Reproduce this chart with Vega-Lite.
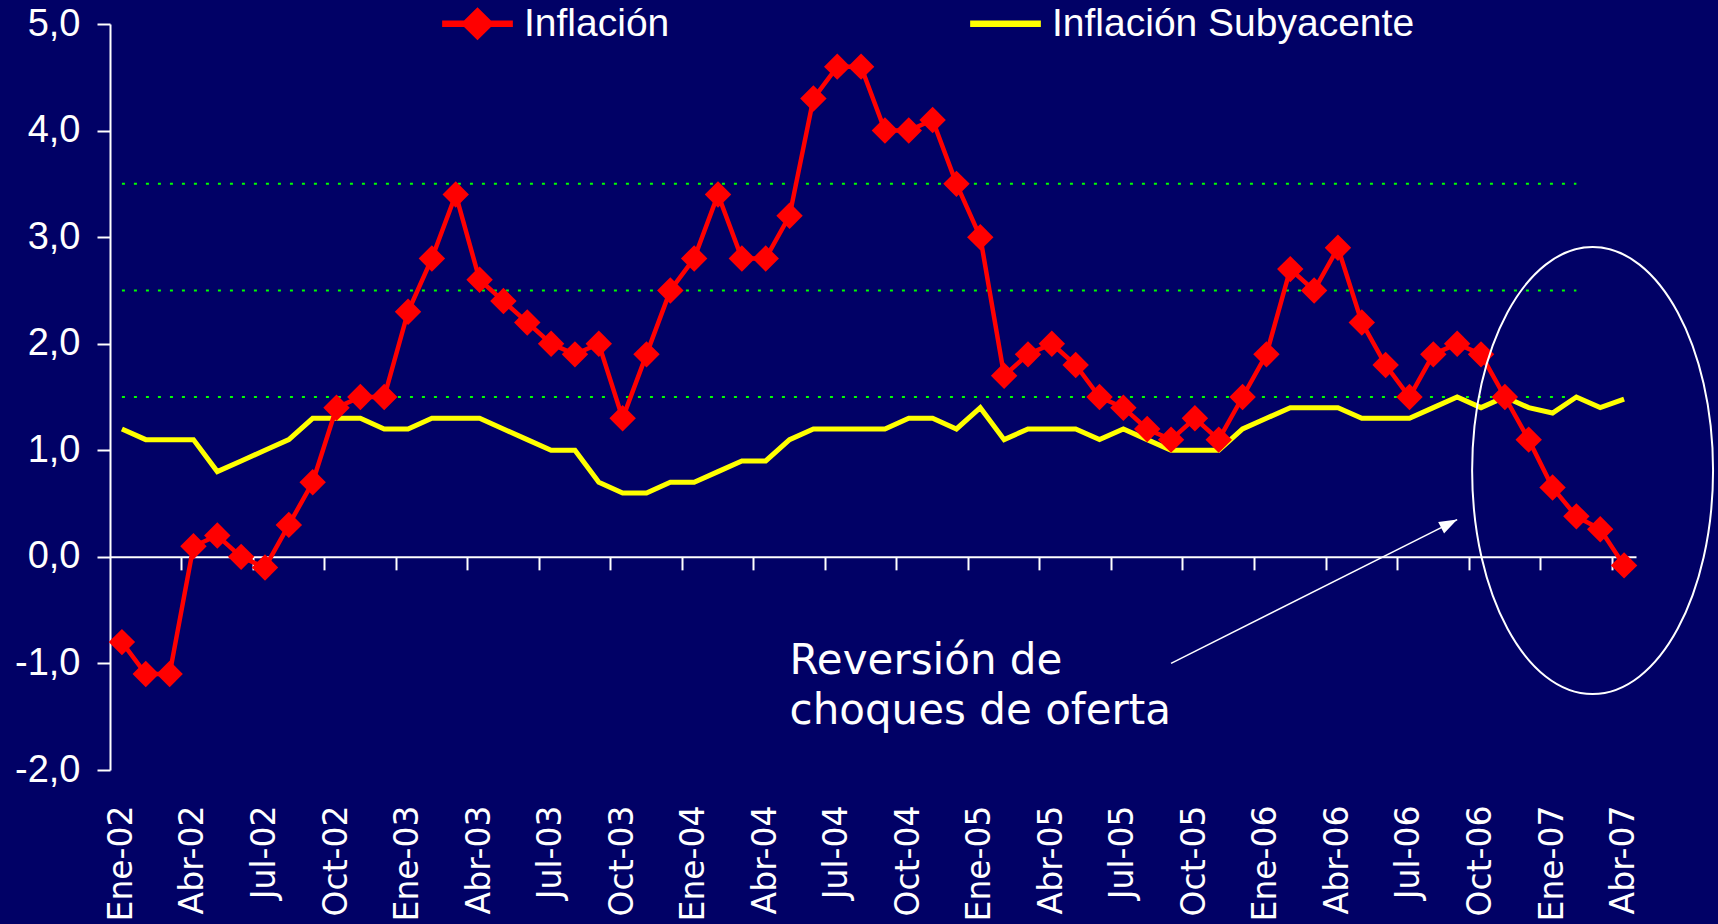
{
  "$schema": "https://vega.github.io/schema/vega-lite/v6.json",
  "width": 1526,
  "height": 746,
  "autosize": {"type": "none"},
  "padding": {"left": 110, "top": 24, "right": 82, "bottom": 154},
  "background": "#010166",
  "config": {"view": {"stroke": null}},
  "datasets": {
    "ipc": [
      {"mes": "Ene-02", "Inflación": -0.8, "Inflación Subyacente": 1.2},
      {"mes": "Feb-02", "Inflación": -1.1, "Inflación Subyacente": 1.1},
      {"mes": "Mar-02", "Inflación": -1.1, "Inflación Subyacente": 1.1},
      {"mes": "Abr-02", "Inflación": 0.1, "Inflación Subyacente": 1.1},
      {"mes": "May-02", "Inflación": 0.2, "Inflación Subyacente": 0.8},
      {"mes": "Jun-02", "Inflación": 0.0, "Inflación Subyacente": 0.9},
      {"mes": "Jul-02", "Inflación": -0.1, "Inflación Subyacente": 1.0},
      {"mes": "Ago-02", "Inflación": 0.3, "Inflación Subyacente": 1.1},
      {"mes": "Sep-02", "Inflación": 0.7, "Inflación Subyacente": 1.3},
      {"mes": "Oct-02", "Inflación": 1.4, "Inflación Subyacente": 1.3},
      {"mes": "Nov-02", "Inflación": 1.5, "Inflación Subyacente": 1.3},
      {"mes": "Dic-02", "Inflación": 1.5, "Inflación Subyacente": 1.2},
      {"mes": "Ene-03", "Inflación": 2.3, "Inflación Subyacente": 1.2},
      {"mes": "Feb-03", "Inflación": 2.8, "Inflación Subyacente": 1.3},
      {"mes": "Mar-03", "Inflación": 3.4, "Inflación Subyacente": 1.3},
      {"mes": "Abr-03", "Inflación": 2.6, "Inflación Subyacente": 1.3},
      {"mes": "May-03", "Inflación": 2.4, "Inflación Subyacente": 1.2},
      {"mes": "Jun-03", "Inflación": 2.2, "Inflación Subyacente": 1.1},
      {"mes": "Jul-03", "Inflación": 2.0, "Inflación Subyacente": 1.0},
      {"mes": "Ago-03", "Inflación": 1.9, "Inflación Subyacente": 1.0},
      {"mes": "Sep-03", "Inflación": 2.0, "Inflación Subyacente": 0.7},
      {"mes": "Oct-03", "Inflación": 1.3, "Inflación Subyacente": 0.6},
      {"mes": "Nov-03", "Inflación": 1.9, "Inflación Subyacente": 0.6},
      {"mes": "Dic-03", "Inflación": 2.5, "Inflación Subyacente": 0.7},
      {"mes": "Ene-04", "Inflación": 2.8, "Inflación Subyacente": 0.7},
      {"mes": "Feb-04", "Inflación": 3.4, "Inflación Subyacente": 0.8},
      {"mes": "Mar-04", "Inflación": 2.8, "Inflación Subyacente": 0.9},
      {"mes": "Abr-04", "Inflación": 2.8, "Inflación Subyacente": 0.9},
      {"mes": "May-04", "Inflación": 3.2, "Inflación Subyacente": 1.1},
      {"mes": "Jun-04", "Inflación": 4.3, "Inflación Subyacente": 1.2},
      {"mes": "Jul-04", "Inflación": 4.6, "Inflación Subyacente": 1.2},
      {"mes": "Ago-04", "Inflación": 4.6, "Inflación Subyacente": 1.2},
      {"mes": "Sep-04", "Inflación": 4.0, "Inflación Subyacente": 1.2},
      {"mes": "Oct-04", "Inflación": 4.0, "Inflación Subyacente": 1.3},
      {"mes": "Nov-04", "Inflación": 4.1, "Inflación Subyacente": 1.3},
      {"mes": "Dic-04", "Inflación": 3.5, "Inflación Subyacente": 1.2},
      {"mes": "Ene-05", "Inflación": 3.0, "Inflación Subyacente": 1.4},
      {"mes": "Feb-05", "Inflación": 1.7, "Inflación Subyacente": 1.1},
      {"mes": "Mar-05", "Inflación": 1.9, "Inflación Subyacente": 1.2},
      {"mes": "Abr-05", "Inflación": 2.0, "Inflación Subyacente": 1.2},
      {"mes": "May-05", "Inflación": 1.8, "Inflación Subyacente": 1.2},
      {"mes": "Jun-05", "Inflación": 1.5, "Inflación Subyacente": 1.1},
      {"mes": "Jul-05", "Inflación": 1.4, "Inflación Subyacente": 1.2},
      {"mes": "Ago-05", "Inflación": 1.2, "Inflación Subyacente": 1.1},
      {"mes": "Sep-05", "Inflación": 1.1, "Inflación Subyacente": 1.0},
      {"mes": "Oct-05", "Inflación": 1.3, "Inflación Subyacente": 1.0},
      {"mes": "Nov-05", "Inflación": 1.1, "Inflación Subyacente": 1.0},
      {"mes": "Dic-05", "Inflación": 1.5, "Inflación Subyacente": 1.2},
      {"mes": "Ene-06", "Inflación": 1.9, "Inflación Subyacente": 1.3},
      {"mes": "Feb-06", "Inflación": 2.7, "Inflación Subyacente": 1.4},
      {"mes": "Mar-06", "Inflación": 2.5, "Inflación Subyacente": 1.4},
      {"mes": "Abr-06", "Inflación": 2.9, "Inflación Subyacente": 1.4},
      {"mes": "May-06", "Inflación": 2.2, "Inflación Subyacente": 1.3},
      {"mes": "Jun-06", "Inflación": 1.8, "Inflación Subyacente": 1.3},
      {"mes": "Jul-06", "Inflación": 1.5, "Inflación Subyacente": 1.3},
      {"mes": "Ago-06", "Inflación": 1.9, "Inflación Subyacente": 1.4},
      {"mes": "Sep-06", "Inflación": 2.0, "Inflación Subyacente": 1.5},
      {"mes": "Oct-06", "Inflación": 1.9, "Inflación Subyacente": 1.4},
      {"mes": "Nov-06", "Inflación": 1.5, "Inflación Subyacente": 1.5},
      {"mes": "Dic-06", "Inflación": 1.1, "Inflación Subyacente": 1.4},
      {"mes": "Ene-07", "Inflación": 0.65, "Inflación Subyacente": 1.35},
      {"mes": "Feb-07", "Inflación": 0.38, "Inflación Subyacente": 1.5},
      {"mes": "Mar-07", "Inflación": 0.26, "Inflación Subyacente": 1.4},
      {"mes": "Abr-07", "Inflación": -0.08, "Inflación Subyacente": 1.48}
    ],
    "bandas": [{"nivel": 1.5}, {"nivel": 2.5}, {"nivel": 3.5}]
  },
  "data": {"name": "ipc"},
  "transform": [{"fold": ["Inflación", "Inflación Subyacente"], "as": ["serie", "valor"]}],
  "resolve": {"axis": {"x": "independent"}},
  "layer": [
    {
      "data": {"name": "bandas"},
      "mark": {"type": "rule", "color": "#00ff00", "strokeWidth": 2, "strokeDash": [3, 9]},
      "encoding": {
        "x": {"datum": "Ene-02", "type": "ordinal", "axis": null, "scale": {"type": "band", "paddingInner": 0, "paddingOuter": 0, "domain": ["Ene-02","Feb-02","Mar-02","Abr-02","May-02","Jun-02","Jul-02","Ago-02","Sep-02","Oct-02","Nov-02","Dic-02","Ene-03","Feb-03","Mar-03","Abr-03","May-03","Jun-03","Jul-03","Ago-03","Sep-03","Oct-03","Nov-03","Dic-03","Ene-04","Feb-04","Mar-04","Abr-04","May-04","Jun-04","Jul-04","Ago-04","Sep-04","Oct-04","Nov-04","Dic-04","Ene-05","Feb-05","Mar-05","Abr-05","May-05","Jun-05","Jul-05","Ago-05","Sep-05","Oct-05","Nov-05","Dic-05","Ene-06","Feb-06","Mar-06","Abr-06","May-06","Jun-06","Jul-06","Ago-06","Sep-06","Oct-06","Nov-06","Dic-06","Ene-07","Feb-07","Mar-07","Abr-07"]}},
        "x2": {"datum": "Feb-07"},
        "y": {"field": "nivel", "type": "quantitative", "title": null, "scale": {"domain": [-2, 5], "nice": false, "zero": false},
              "axis": {"values": [-2, -1, 0, 1, 2, 3, 4, 5], "labelExpr": "replace(replace(format(datum.value, '.1f'), '.', ','), '\u2212', '-')", "domainColor": "white", "domainWidth": 2, "tickColor": "white", "tickWidth": 2, "tickSize": 13, "labelColor": "white", "labelFont": "Liberation Sans", "labelFontSize": 38, "labelPadding": 17, "grid": false, "title": null}}
      }
    },
    {
      "transform": [{"filter": "datum.serie === 'Inflación Subyacente'"}],
      "mark": {"type": "line", "strokeWidth": 5},
      "encoding": {
        "x": {"field": "mes", "type": "ordinal", "scale": {"type": "band", "paddingInner": 0, "paddingOuter": 0, "domain": ["Ene-02","Feb-02","Mar-02","Abr-02","May-02","Jun-02","Jul-02","Ago-02","Sep-02","Oct-02","Nov-02","Dic-02","Ene-03","Feb-03","Mar-03","Abr-03","May-03","Jun-03","Jul-03","Ago-03","Sep-03","Oct-03","Nov-03","Dic-03","Ene-04","Feb-04","Mar-04","Abr-04","May-04","Jun-04","Jul-04","Ago-04","Sep-04","Oct-04","Nov-04","Dic-04","Ene-05","Feb-05","Mar-05","Abr-05","May-05","Jun-05","Jul-05","Ago-05","Sep-05","Oct-05","Nov-05","Dic-05","Ene-06","Feb-06","Mar-06","Abr-06","May-06","Jun-06","Jul-06","Ago-06","Sep-06","Oct-06","Nov-06","Dic-06","Ene-07","Feb-07","Mar-07","Abr-07"]},
              "axis": {"orient": "bottom", "values": ["Ene-02","Abr-02","Jul-02","Oct-02","Ene-03","Abr-03","Jul-03","Oct-03","Ene-04","Abr-04","Jul-04","Oct-04","Ene-05","Abr-05","Jul-05","Oct-05","Ene-06","Abr-06","Jul-06","Oct-06","Ene-07","Abr-07"], "labelAngle": -90, "labelColor": "white", "labelFont": "DejaVu Sans", "labelFontSize": 33, "labelPadding": 35, "ticks": false, "domain": false, "grid": false, "title": null, "labelOverlap": false, "labelBound": false}},
        "y": {"field": "valor", "type": "quantitative", "title": null},
        "color": {"field": "serie", "type": "nominal", "scale": {"domain": ["Inflación", "Inflación Subyacente"], "range": ["#ff0000", "#ffff00"]},
                  "legend": {"orient": "none", "legendX": 332, "legendY": -36, "direction": "horizontal", "columns": 2, "title": null, "padding": 0, "labelColor": "white", "labelFont": "Liberation Sans", "labelFontSize": 39, "labelOffset": 11, "labelLimit": 700, "columnPadding": 300, "symbolSize": 5000,
                             "encode": {"symbols": {"update": {"shape": {"signal": "datum.value === 'Inflación' ? 'M-1,-0.09L-0.38,-0.09L0,-0.47L0.38,-0.09L1,-0.09L1,0.09L0.38,0.09L0,0.47L-0.38,0.09L-1,0.09Z' : 'M-1,-0.09L1,-0.09L1,0.09L-1,0.09Z'"}, "fill": {"signal": "scale('color', datum.value)"}, "fillOpacity": {"value": 1}, "strokeWidth": {"value": 0}, "opacity": {"value": 1}}}}}}
      }
    },
    {
      "transform": [{"filter": "datum.serie === 'Inflación'"}],
      "mark": {"type": "line", "strokeWidth": 4.5},
      "encoding": {
        "x": {"field": "mes", "type": "ordinal",
              "axis": {"orient": "bottom", "values": ["Abr-02","Jul-02","Oct-02","Ene-03","Abr-03","Jul-03","Oct-03","Ene-04","Abr-04","Jul-04","Oct-04","Ene-05","Abr-05","Jul-05","Oct-05","Ene-06","Abr-06","Jul-06","Oct-06","Ene-07","Abr-07"], "labels": false, "bandPosition": 0, "tickColor": "white", "tickWidth": 2, "tickSize": 13, "domainColor": "white", "domainWidth": 2, "offset": -213.14, "grid": false, "title": null}},
        "y": {"field": "valor", "type": "quantitative", "title": null},
        "color": {"field": "serie", "type": "nominal"}
      }
    },
    {
      "transform": [{"filter": "datum.serie === 'Inflación'"}],
      "mark": {"type": "point", "shape": "diamond", "filled": true, "size": 700, "color": "#ff0000", "opacity": 1},
      "encoding": {
        "x": {"field": "mes", "type": "ordinal", "axis": null},
        "y": {"field": "valor", "type": "quantitative", "title": null}
      }
    },
    {
      "data": {"values": [{}]},
      "mark": {"type": "text", "align": "left", "baseline": "alphabetic", "font": "DejaVu Sans", "fontSize": 42, "color": "white", "lineBreak": "\n", "lineHeight": 50},
      "encoding": {
        "x": {"datum": "May-04", "type": "ordinal", "axis": null},
        "y": {"datum": -1.1, "type": "quantitative"},
        "text": {"value": "Reversión de\nchoques de oferta"}
      }
    },
    {
      "data": {"values": [{}]},
      "mark": {"type": "rule", "color": "white", "strokeWidth": 1.5},
      "encoding": {
        "x": {"datum": "Sep-05", "type": "ordinal", "axis": null},
        "x2": {"datum": "Sep-06"},
        "y": {"datum": -1.0, "type": "quantitative"},
        "y2": {"datum": 0.35}
      }
    },
    {
      "data": {"values": [{}]},
      "mark": {"type": "point", "shape": "M0,0L-0.36,1L0.36,1Z", "filled": true, "color": "white", "opacity": 1, "size": 1296, "angle": 63},
      "encoding": {
        "x": {"datum": "Sep-06", "type": "ordinal", "axis": null},
        "y": {"datum": 0.35, "type": "quantitative"}
      }
    },
    {
      "data": {"values": [{}]},
      "mark": {"type": "point", "shape": "M0.0725,-1A0.539,1,0,1,1,0.0725,1A0.539,1,0,1,1,0.0725,-1Z", "filled": false, "stroke": "white", "strokeWidth": 2, "opacity": 1, "size": 199809},
      "encoding": {
        "x": {"datum": "Feb-07", "type": "ordinal", "axis": null},
        "y": {"datum": 0.81, "type": "quantitative"}
      }
    }
  ]
}
